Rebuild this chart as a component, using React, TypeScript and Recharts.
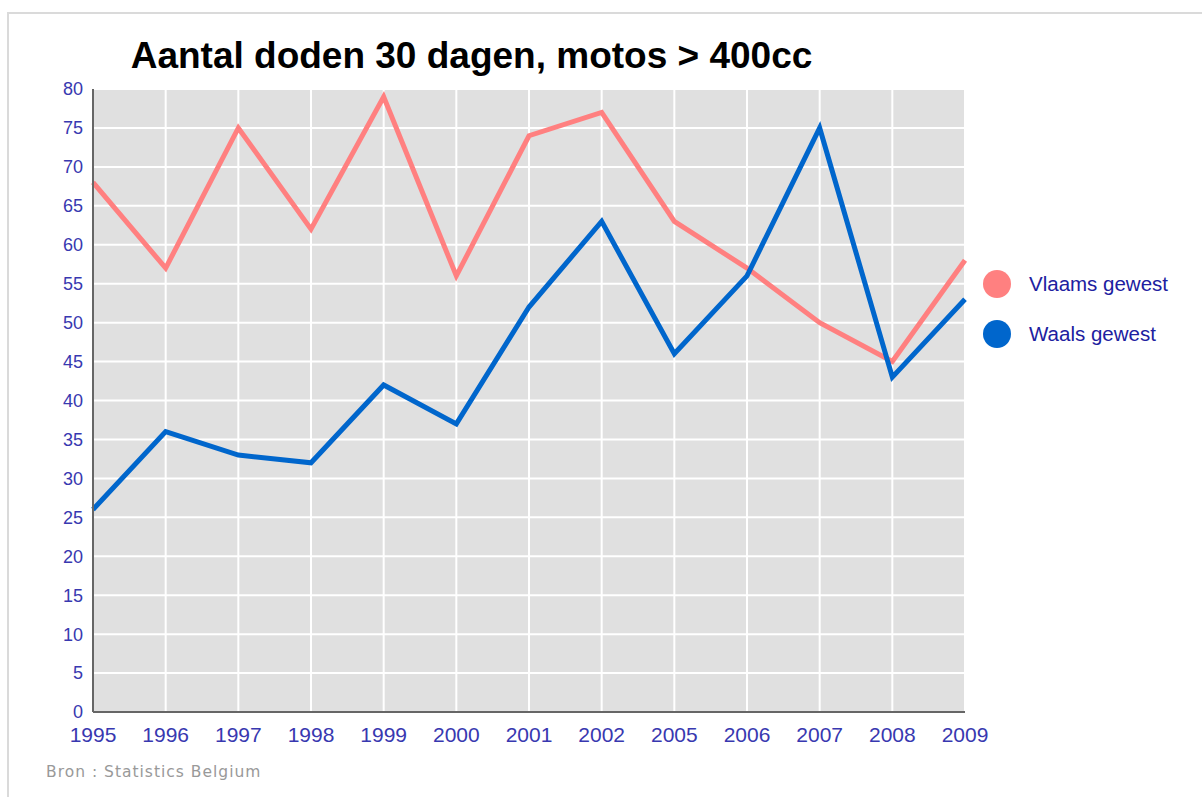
import React from 'react';
import { LineChart, Line, XAxis, YAxis, CartesianGrid } from 'recharts';

// Data
const years = ['1995', '1996', '1997', '1998', '1999', '2000', '2001', '2002', '2005', '2006', '2007', '2008', '2009'];
const vlaams = [68, 57, 75, 62, 79, 56, 74, 77, 63, 57, 50, 45, 58];
const waals = [26, 36, 33, 32, 42, 37, 52, 63, 46, 56, 75, 43, 53];
const yTicks = [0, 5, 10, 15, 20, 25, 30, 35, 40, 45, 50, 55, 60, 65, 70, 75, 80];

const seriesNames = ['Vlaams gewest', 'Waals gewest'];
const seriesColors = ['#ff8080', '#0066cc'];

const data = years.map((year, i) => ({ year, vlaams: vlaams[i], waals: waals[i] }));

const FONT = '"Liberation Sans", Arial, sans-serif';
const TICK_COLOR = '#3838b0';

export default function App() {
    return (
        <div style={{ position: 'absolute', left: 0, top: 0, width: 1202, height: 797, overflow: 'hidden', background: '#fff', fontFamily: FONT }}>
            {/* outer frame: only top and left edges are visible */}
            <div style={{ position: 'absolute', left: 7, top: 12, width: 1400, height: 1000, borderTop: '2px solid #dadada', borderLeft: '2px solid #dadada' }} />

            <div style={{ position: 'absolute', left: 0, top: 36, width: 943, textAlign: 'center', fontSize: 37, fontWeight: 'bold', color: '#000', lineHeight: '40px' }}>
                Aantal doden 30 dagen, motos &gt; 400cc
            </div>

            <div style={{ position: 'absolute', left: 0, top: 0 }}>
                <LineChart width={1202} height={797} data={data} margin={{ top: 89, right: 237, left: 0, bottom: 45 }}>
                    <CartesianGrid fill="#e0e0e0" stroke="#ffffff" strokeWidth={2} />
                    <XAxis
                        dataKey="year"
                        height={40}
                        padding={{ left: 0, right: 0 }}
                        interval={0}
                        tickLine={false}
                        tickSize={0}
                        tickMargin={15}
                        axisLine={{ stroke: '#666666', strokeWidth: 2 }}
                        tick={{ fill: TICK_COLOR, fontSize: 21, fontFamily: FONT }}
                    />
                    <YAxis
                        width={93}
                        domain={[0, 80]}
                        ticks={yTicks}
                        interval={0}
                        tickLine={false}
                        tickSize={0}
                        tickMargin={10}
                        axisLine={{ stroke: '#666666', strokeWidth: 2 }}
                        tick={{ fill: TICK_COLOR, fontSize: 18, fontFamily: FONT }}
                    />
                    <Line type="linear" dataKey="vlaams" name={seriesNames[0]} stroke={seriesColors[0]} strokeWidth={5} dot={false} isAnimationActive={false} />
                    <Line type="linear" dataKey="waals" name={seriesNames[1]} stroke={seriesColors[1]} strokeWidth={5} dot={false} isAnimationActive={false} />
                </LineChart>
            </div>

            {/* legend */}
            {seriesNames.map((name, i) => (
                <div key={name} style={{ position: 'absolute', left: 983, top: 270 + i * 50, height: 28, display: 'flex', alignItems: 'center' }}>
                    <div style={{ width: 28, height: 28, borderRadius: 14, background: seriesColors[i] }} />
                    <span style={{ marginLeft: 18, fontSize: 20.5, color: '#2020a0' }}>{name}</span>
                </div>
            ))}

            <div style={{ position: 'absolute', left: 46, top: 763, fontSize: 15.5, color: '#999999', fontFamily: '"DejaVu Sans", Verdana, sans-serif', letterSpacing: 1 }}>
                Bron : Statistics Belgium
            </div>
        </div>
    );
}
